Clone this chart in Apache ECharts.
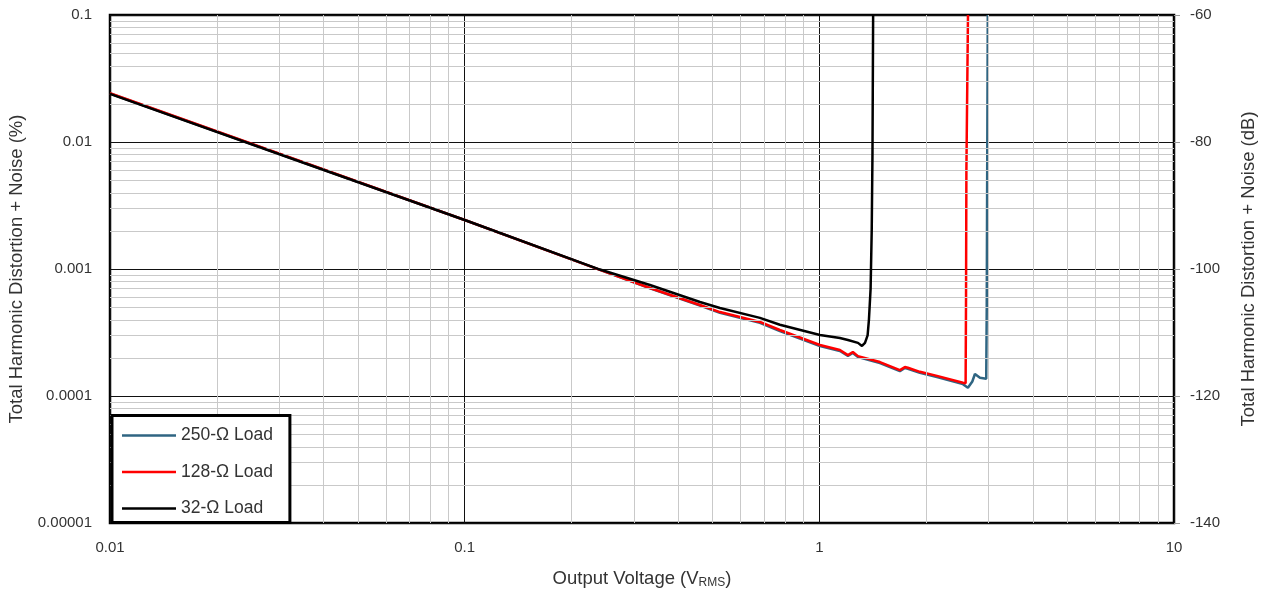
<!DOCTYPE html>
<html>
<head>
<meta charset="utf-8">
<script src="https://cdn.jsdelivr.net/npm/echarts@6/dist/echarts.min.js"></script>
<style>html,body{margin:0;padding:0;background:#fff}#chart{width:1265px;height:591px}</style>
</head>
<body>
<div id="chart"></div>
<script>
// ---- data (Output voltage Vrms, THD+N %) ----
const seriesNames = ['250-Ω Load', '128-Ω Load', '32-Ω Load'];
const seriesColors = ['#2f6582', '#ff0000', '#000000'];

const v250 = [0.01, 0.0343, 0.1, 0.2407, 0.333, 0.4607, 0.5245, 0.680, 0.774, 1.004, 1.143, 1.204, 1.243, 1.285, 1.482, 1.687, 1.743, 1.777, 1.921, 2.146, 2.541, 2.624, 2.70, 2.746, 2.80, 2.837, 2.955, 2.965, 2.972, 2.985];
const thd250 = [0.0241, 0.00706, 0.00243, 0.000985, 0.000705, 0.000516, 0.000452, 0.000377, 0.000325, 0.000247, 0.000226, 0.000207, 0.000218, 0.000203, 0.000182, 0.000157, 0.000166, 0.000164, 0.000152, 0.000141, 0.000124, 0.000116, 0.000130, 0.000149, 0.000143, 0.000139, 0.000137, 0.000500, 0.00400, 0.1];

const v128 = [0.01, 0.0343, 0.1, 0.2407, 0.333, 0.4607, 0.5245, 0.680, 0.774, 1.004, 1.143, 1.204, 1.243, 1.285, 1.482, 1.687, 1.743, 1.777, 1.921, 2.146, 2.541, 2.585, 2.592, 2.598, 2.625];
const thd128 = [0.0242, 0.00708, 0.00243, 0.000985, 0.000708, 0.000521, 0.000458, 0.000383, 0.000331, 0.000252, 0.000230, 0.000210, 0.000222, 0.000206, 0.000185, 0.000160, 0.000169, 0.000167, 0.000155, 0.000144, 0.000127, 0.000126, 0.000600, 0.00600, 0.1];

const v32 = [0.01, 0.0343, 0.1, 0.2407, 0.333, 0.4607, 0.5245, 0.680, 0.774, 1.004, 1.143, 1.204, 1.285, 1.319, 1.345, 1.368, 1.380, 1.395, 1.405, 1.412, 1.418];
const thd32 = [0.0239, 0.00702, 0.00243, 0.000990, 0.000748, 0.000550, 0.000493, 0.000412, 0.000364, 0.000302, 0.000286, 0.000276, 0.000262, 0.000248, 0.000262, 0.000300, 0.000400, 0.000700, 0.00200, 0.00800, 0.1];

const xTickLabels = ['0.01', '0.1', '1', '10'];
const yTickLabels = ['0.00001', '0.0001', '0.001', '0.01', '0.1'];
const dbTickLabels = ['-140', '-120', '-100', '-80', '-60'];
const xDecades = [0.01, 0.1, 1];
const yDecades = [0.00001, 0.0001, 0.001, 0.01];
const minorSteps = [2, 3, 4, 5, 6, 7, 8, 9];

function zip(xs, ys) { return xs.map((x, i) => [x, ys[i]]); }

// minor grid: x on the log x axis; y on a hidden linear axis holding log10(%)
const minorX = [];
xDecades.forEach(d => minorSteps.forEach(k => minorX.push({ xAxis: +(k * d).toPrecision(6) })));
const minorY = [];
yDecades.forEach(d => minorSteps.forEach(k => minorY.push({ yAxis: Math.log10(k * d) })));

const FONT = "'Liberation Sans', Arial, sans-serif";
const NAME_SIZE = 18.5;
const chart = echarts.init(document.getElementById('chart'));
const minorStyle = { color: '#c9c9c9', width: 1, type: 'solid' };
const option = {
  animation: false,
  textStyle: { fontFamily: FONT },
  grid: { left: 110, right: 91, top: 15, bottom: 68, show: true, borderColor: '#000', borderWidth: 2.5,
    backgroundColor: 'transparent', containLabel: false, outerBoundsMode: 'none' },
  xAxis: {
    type: 'log', logBase: 10, min: 0.01, max: 10,
    axisLine: { show: false }, axisTick: { show: false },
    splitLine: { show: true, lineStyle: { color: '#111', width: 1 } },
    axisLabel: { color: '#333', fontSize: 15, fontFamily: FONT, margin: 17,
      formatter: v => xTickLabels[Math.round(Math.log10(v)) + 2] },
    name: '{n|Output Voltage (V}{s|RMS}{n|)}', nameLocation: 'middle', nameGap: 45,
    nameTextStyle: { rich: { n: { fontSize: NAME_SIZE, color: '#333', fontFamily: FONT }, s: { fontSize: 12, color: '#333', fontFamily: FONT, verticalAlign: 'bottom', padding: [9, 0, 0, 0] } } }
  },
  yAxis: [{
    type: 'log', logBase: 10, min: 0.00001, max: 0.1,
    axisLine: { show: false }, axisTick: { show: false },
    splitLine: { show: true, lineStyle: { color: '#111', width: 1 } },
    axisLabel: { color: '#333', fontSize: 15, fontFamily: FONT, margin: 18,
      formatter: v => yTickLabels[Math.round(Math.log10(v)) + 5] },
    name: 'Total Harmonic Distortion + Noise (%)', nameLocation: 'middle', nameGap: 81,
    nameTextStyle: { fontSize: NAME_SIZE, color: '#333', fontFamily: FONT }
  }, {
    type: 'value', position: 'right', min: -140, max: -60, interval: 20,
    axisLine: { show: false },
    axisTick: { show: true, length: 6, lineStyle: { color: '#999' } },
    splitLine: { show: false },
    axisLabel: { color: '#333', fontSize: 15, fontFamily: FONT, margin: 16,
      formatter: v => dbTickLabels[Math.round((v + 140) / 20)] },
    name: 'Total Harmonic Distortion + Noise (dB)', nameLocation: 'middle', nameGap: 65, nameRotate: 90,
    nameTextStyle: { fontSize: NAME_SIZE, color: '#333', fontFamily: FONT }
  }, {
    type: 'value', show: false, min: -5, max: -1, position: 'left', offset: 0,
    axisLine: { show: false }, axisTick: { show: false }, axisLabel: { show: false }, splitLine: { show: false }
  }],
  legend: {
    orient: 'vertical', left: 112, top: 415.5, z: 20,
    data: seriesNames,
    icon: 'rect',
    backgroundColor: '#fff', borderColor: '#000', borderWidth: 3,
    padding: [11, 17, 5, 10], itemGap: 18.5, itemWidth: 54, itemHeight: 2.5,
    textStyle: { fontSize: 17.5, color: '#333', fontFamily: FONT }
  },
  series: [
    { type: 'line', name: '_minorX', data: [], silent: true, z: 1,
      markLine: { silent: true, symbol: ['none', 'none'], label: { show: false }, animation: false,
        lineStyle: minorStyle, emphasis: { disabled: true }, data: minorX } },
    { type: 'line', name: '_minorY', data: [], yAxisIndex: 2, silent: true, z: 1,
      markLine: { silent: true, symbol: ['none', 'none'], label: { show: false }, animation: false,
        lineStyle: minorStyle, emphasis: { disabled: true }, data: minorY } },
    { type: 'line', name: seriesNames[0], data: zip(v250, thd250), symbol: 'none', z: 3,
      lineStyle: { color: seriesColors[0], width: 2.5 }, itemStyle: { color: seriesColors[0] } },
    { type: 'line', name: seriesNames[1], data: zip(v128, thd128), symbol: 'none', z: 4,
      lineStyle: { color: seriesColors[1], width: 2.5 }, itemStyle: { color: seriesColors[1] } },
    { type: 'line', name: seriesNames[2], data: zip(v32, thd32), symbol: 'none', z: 5,
      lineStyle: { color: seriesColors[2], width: 2.5 }, itemStyle: { color: seriesColors[2] } }
  ]
};
chart.setOption(option);
</script>
</body>
</html>
